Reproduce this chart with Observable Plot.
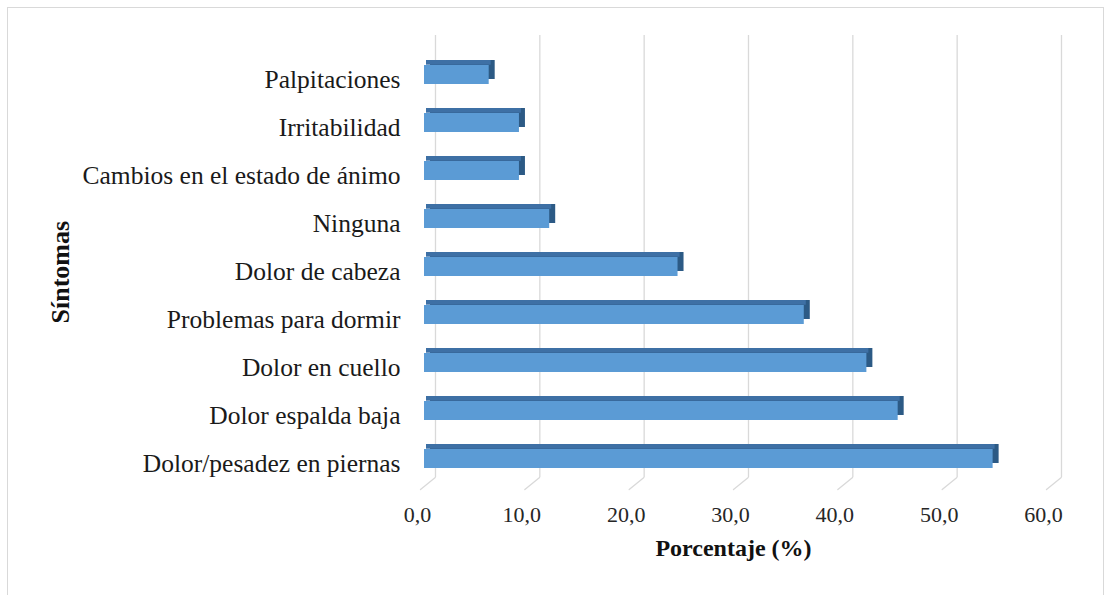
<!DOCTYPE html>
<html>
<head>
<meta charset="utf-8">
<script src="https://cdn.jsdelivr.net/npm/d3@7"></script>
<script src="https://cdn.jsdelivr.net/npm/@observablehq/plot@0.6"></script>
<style>
  html, body { margin: 0; padding: 0; background: #fff; }
  #wrap { position: relative; width: 1112px; height: 595px; overflow: hidden; }
  #border { position: absolute; left: 7px; top: 7px; width: 1097px; height: 620px; border: 1.5px solid #d9d9d9; box-sizing: border-box; pointer-events: none; }
  svg { font-family: "Liberation Serif", "Times New Roman", serif; }
</style>
</head>
<body>
<div id="wrap"><div id="border"></div></div>
<script>
const categories = [
  "Palpitaciones",
  "Irritabilidad",
  "Cambios en el estado de ánimo",
  "Ninguna",
  "Dolor de cabeza",
  "Problemas para dormir",
  "Dolor en cuello",
  "Dolor espalda baja",
  "Dolor/pesadez en piernas"
];
const values = [6.2, 9.1, 9.1, 12.0, 24.3, 36.4, 42.4, 45.4, 54.5];
const xTicks = [0, 10, 20, 30, 40, 50, 60];
const xTitle = "Porcentaje (%)";
const yTitle = "Síntomas";

const data = categories.map((c, i) => ({cat: c, val: values[i]}));
const fmt = d => d.toFixed(1).replace(".", ",");

const floorLine = {draw(context, l) { context.moveTo(0, 0); context.lineTo(0, -l); }};

const bw = 0.4 * 48.25;

const chart = Plot.plot({
  width: 1112,
  height: 595,
  marginLeft: 420,
  marginRight: 66,
  marginTop: 50,
  marginBottom: 111,
  style: {fontFamily: "Liberation Serif, Times New Roman, serif", background: "transparent"},
  x: {domain: [0, 60]},
  y: {domain: categories, paddingInner: 0.6, paddingOuter: 0.3},
  marks: [
    Plot.ruleX(xTicks, {stroke: "#d9d9d9", strokeWidth: 1.3, dx: 15, insetTop: -15, insetBottom: 7}),
    Plot.vector(xTicks, {x: d => d, frameAnchor: "bottom", dy: 5, length: 19, rotate: 51, anchor: "start", shape: floorLine, stroke: "#d9d9d9", strokeWidth: 1.3}),
    Plot.barX(data, {y: "cat", x: "val", fill: "#2c5a85", dx: 10, dy: -5}),
    Plot.barX(data, {y: "cat", x: "val", fill: "#3e70a5", dx: 6, dy: -5, insetBottom: bw - 5}),
    Plot.barX(data, {y: "cat", x: "val", fill: "#5b9bd5", dx: 4}),
    Plot.axisY({tickSize: 0, tickPadding: 20, fontSize: 25.5, dy: 5, fill: "#1a1a1a", label: null}),
    Plot.axisX({ticks: xTicks, tickFormat: fmt, tickSize: 0, tickPadding: 22, fontSize: 22, dx: -3, fill: "#262626", label: null}),
    Plot.text([xTitle], {frameAnchor: "bottom", dy: 71, fontSize: 24, fontWeight: "bold", fill: "#111"}),
    Plot.text([yTitle], {frameAnchor: "left", dx: -360, dy: 56, rotate: -90, fontSize: 26, fontWeight: "bold", fill: "#111"})
  ]
});
document.getElementById("wrap").prepend(chart);
</script>
</body>
</html>
